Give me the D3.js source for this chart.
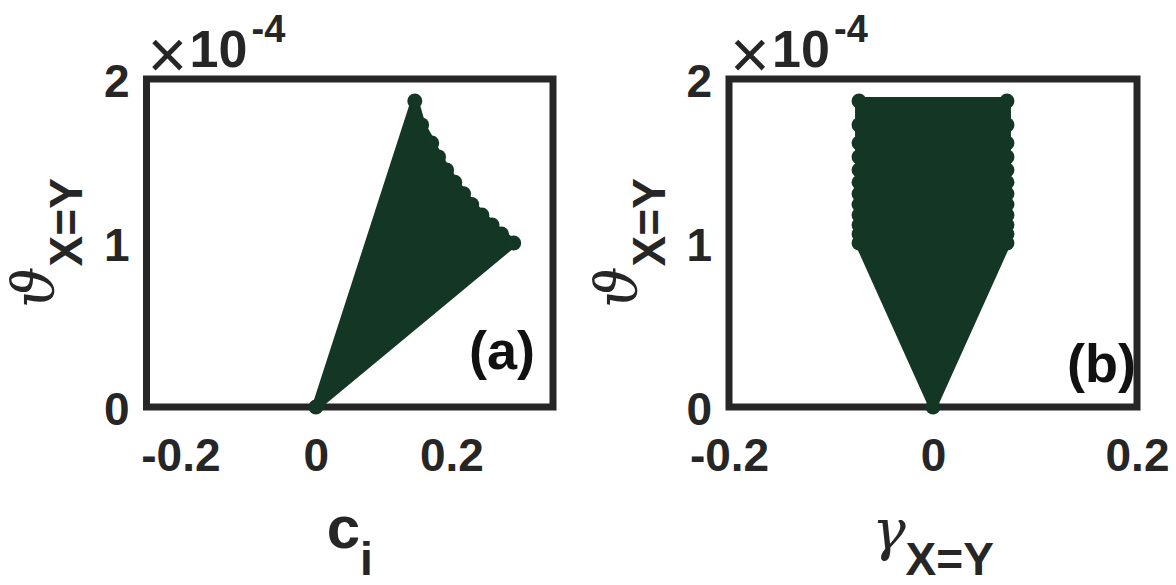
<!DOCTYPE html>
<html>
<head>
<meta charset="utf-8">
<script src="https://cdn.jsdelivr.net/npm/d3@7"></script>
<style>
  html, body { margin: 0; padding: 0; background: #fff; }
  svg { display: block; }
</style>
</head>
<body>
<svg id="chart" width="1176" height="585"></svg>
<script>
// ϑ levels (×10^-4) reached by the outer samples of each cloud
const thetaEdge = [1.866, 1.72, 1.61, 1.525, 1.445, 1.37, 1.30, 1.235, 1.17, 1.11, 1.055, 1.0];
// panel (a): c_i of the outer samples on the upper-right edge
const ciEdge = [0.146, 0.156, 0.171, 0.181, 0.193, 0.205, 0.218, 0.230, 0.245, 0.260, 0.274, 0.292];
// panel (b): γ bounds of the cloud above ϑ = 1e-4
const gammaEdge = [-0.0725, 0.0725];
// common vertex of both clouds
const originPt = [0, 0];

const xTicksA = [-0.2, 0, 0.2];
const xTicksB = [-0.2, 0, 0.2];
const yTicks = [0, 1, 2];
const xDomainA = [-0.25, 0.35];
const xDomainB = [-0.2, 0.2];
const yDomain = [0, 2];

const ink = "#262626";
const green = "#143625";
const markerR = 7.5;
const sans = "'Liberation Sans', Arial, sans-serif";

const svg = d3.select("#chart");

// outline samples of each cloud, in data units
const cloudA = [originPt].concat(ciEdge.map((c, i) => [c, thetaEdge[i]]));
const asc = thetaEdge.slice().reverse();
const cloudB = [originPt]
  .concat(asc.map(t => [gammaEdge[0], t]))
  .concat(thetaEdge.map(t => [gammaEdge[1], t]));

function boldText(sel, size) {
  return sel.style("font-family", sans).style("font-weight", "bold").style("font-size", size + "px");
}

function panel(opts) {
  const { left, right, top, bottom, xDomain, xTicks, pts, tag, tagX, tagY } = opts;
  const x = d3.scaleLinear().domain(xDomain).range([left, right]);
  const y = d3.scaleLinear().domain(yDomain).range([bottom, top]);
  const g = svg.append("g");

  // axes box
  g.append("rect")
    .attr("x", left).attr("y", top)
    .attr("width", right - left).attr("height", bottom - top)
    .attr("fill", "none").attr("stroke", ink).attr("stroke-width", 7);

  // x axis tick labels
  const ax = g.append("g").attr("transform", `translate(0,${bottom})`)
    .call(d3.axisBottom(x).tickValues(xTicks).tickSize(0)
      .tickFormat(d => d === 0 ? "0" : d3.format(".1f")(d).replace("−", "-")));
  ax.select(".domain").remove();
  boldText(ax.selectAll("text").attr("y", 64).attr("dy", null), 46).attr("fill", ink);

  // y axis tick labels
  const ay = g.append("g").attr("transform", `translate(${left},0)`)
    .call(d3.axisLeft(y).tickValues(yTicks).tickSize(0).tickFormat(d3.format("d")));
  ay.select(".domain").remove();
  boldText(ay.selectAll("text").attr("x", -17).attr("dy", null).attr("y", 17), 46).attr("fill", ink);

  // exponent label ×10^-4
  g.append("text").attr("x", left + 1).attr("y", 78)
    .style("font-family", sans).style("font-size", "68px").attr("fill", ink).text("×");
  boldText(g.append("text").attr("x", left + 43).attr("y", 67), 52).attr("fill", ink).text("10");
  boldText(g.append("text").attr("x", left + 105).attr("y", 42), 38).attr("fill", ink).text("-4");

  // scatter cloud: filled hull plus the outer markers
  const line = d3.line().x(d => x(d[0])).y(d => y(d[1])).curve(d3.curveLinearClosed);
  g.append("path").attr("d", line(pts))
    .attr("fill", green).attr("stroke", green)
    .attr("stroke-width", 2 * (markerR - 3.5)).attr("stroke-linejoin", "round");
  g.selectAll("circle.pt").data(pts).join("circle")
    .attr("class", "pt")
    .attr("cx", d => x(d[0])).attr("cy", d => y(d[1]))
    .attr("r", markerR).attr("fill", green);

  // panel tag
  boldText(g.append("text").attr("x", tagX).attr("y", tagY).attr("text-anchor", "end"), 54)
    .attr("fill", "#111").text(tag);

  // y label ϑ_{X=Y}
  const yl = g.append("text")
    .attr("transform", `translate(${left - 93.5},${(top + bottom) / 2}) rotate(-90)`)
    .attr("text-anchor", "middle").attr("fill", ink);
  yl.append("tspan").style("font-family", "'DejaVu Serif', serif")
    .style("font-style", "italic").style("font-size", "58px").text("ϑ");
  boldText(yl.append("tspan").attr("dy", 29), 46).text("X=Y");

  return { g, x, y };
}

panel({
  left: 146.5, right: 553, top: 79, bottom: 407,
  xDomain: xDomainA, xTicks: xTicksA, pts: cloudA,
  tag: "(a)", tagX: 535, tagY: 369
});
panel({
  left: 729, right: 1137, top: 79, bottom: 407,
  xDomain: xDomainB, xTicks: xTicksB, pts: cloudB,
  tag: "(b)", tagX: 1136, tagY: 382
});

// x label c_i
const xla = svg.append("text")
  .attr("x", (146.5 + 553) / 2).attr("y", 548)
  .attr("text-anchor", "middle").attr("fill", ink)
  .style("font-family", sans).style("font-weight", "bold");
xla.append("tspan").style("font-size", "60px").text("c");
xla.append("tspan").attr("dy", 27).style("font-size", "46px").text("i");

// x label γ_{X=Y}
const xlb = svg.append("text")
  .attr("x", (729 + 1137) / 2).attr("y", 549)
  .attr("text-anchor", "middle").attr("fill", ink);
xlb.append("tspan").style("font-family", "'DejaVu Serif', serif")
  .style("font-style", "italic").style("font-size", "56px").text("γ");
boldText(xlb.append("tspan").attr("dy", 26), 46).text("X=Y");
</script>
</body>
</html>
